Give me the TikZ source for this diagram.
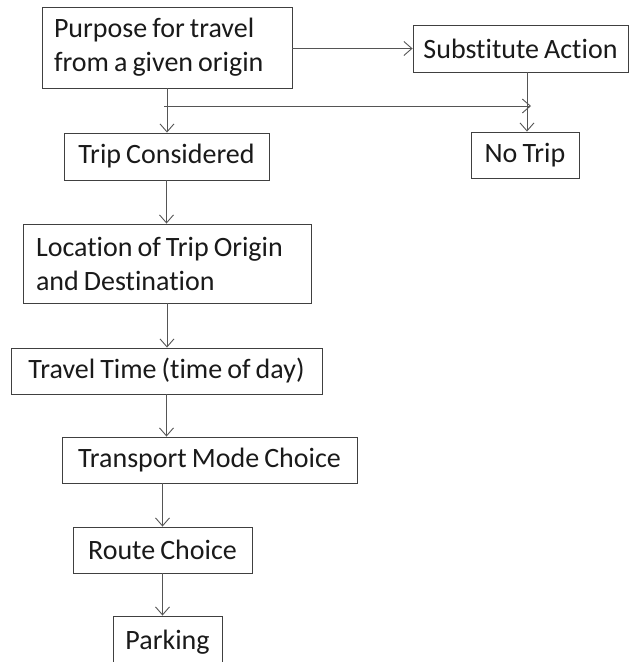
\documentclass[tikz,border=0pt]{standalone}
\usepackage{fontspec}
\setmainfont{Carlito}[Ligatures=NoCommon, WordSpace=0.8]
\usetikzlibrary{arrows.meta}
\definecolor{boxline}{HTML}{404040}
\definecolor{arrline}{HTML}{555555}
\definecolor{txt}{HTML}{1A1A1A}
\tikzset{
  box/.style={draw=boxline, line width=0.9pt, inner sep=0pt, text=txt,
    font=\fontsize{28}{34}\selectfont, anchor=center},
  twoline/.style={box, align=flush left, inner xsep=12pt},
  conn/.style={draw=arrline, line width=0.9pt,
    -{Straight Barb[length=8pt,width=14pt,line width=0.9pt]}}
}
\begin{document}
\begin{tikzpicture}[x=1pt,y=-1pt]
\useasboundingbox (0,0) rectangle (629,662);
\clip (0,0) rectangle (629,662);
\fill[white] (0,0) rectangle (629,662);

\node[twoline, minimum width=250pt, minimum height=81pt, text width=226pt] (p) at (167,47.5)
  {Purpose for travel\\from a given origin};
\node[box, minimum width=215pt, minimum height=47pt] (sa) at (520.5,48.5) {Substitute Action};
\node[box, minimum width=108pt, minimum height=46pt] (nt) at (525,155) {No Trip};
\node[box, minimum width=205pt, minimum height=47pt] (tc) at (166.5,156.5) {Trip Considered};
\node[twoline, minimum width=288pt, minimum height=79pt, text width=262pt] (loc) at (167,263.5)
  {Location of Trip Origin\\and Destination};
\node[box, minimum width=311pt, minimum height=46pt] (tt) at (166.5,371) {Travel Time (time of day)};
\node[box, minimum width=295pt, minimum height=46pt] (tm) at (209.5,460) {Transport Mode Choice};
\node[box, minimum width=179pt, minimum height=46pt] (rc) at (162.5,550) {Route Choice};
\node[box, minimum width=109pt, minimum height=52pt] (pk) at (167.5,642) {Parking};

\coordinate (br) at (164,106);
\coordinate (brend) at (531,106);

\draw[conn] (p.east |- sa.west) -- (sa.west);
\draw[conn] (sa.south -| 527,0) -- (nt.north -| 527,0);
\draw[conn] (br) -- (brend);
\draw[conn] (p.south) -- (p.south |- tc.north);
\draw[conn] (tc.south) -- (tc.south |- loc.north);
\draw[conn] (loc.south) -- (loc.south |- tt.north);
\draw[conn] (tt.south) -- (tt.south |- tm.north);
\draw[conn] (tm.south -| rc) -- (rc.north);
\draw[conn] (rc.south) -- (rc.south |- pk.north);
\end{tikzpicture}
\end{document}
